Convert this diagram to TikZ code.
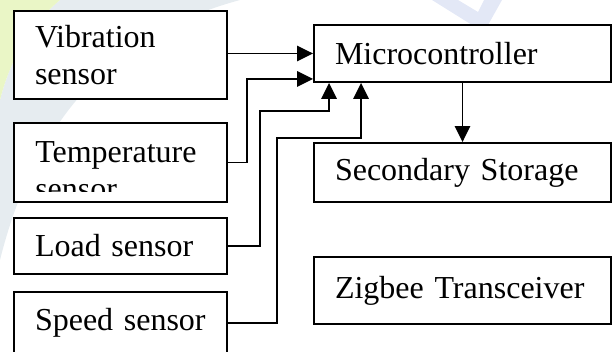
\documentclass[tikz,border=0pt]{standalone}
\usepackage{fontspec}
\setmainfont{Liberation Serif}
\usetikzlibrary{arrows.meta,calc}

\definecolor{wmgreen}{HTML}{EAF6C6}
\definecolor{wmgrey}{HTML}{E6ECF0}
\definecolor{wmblue}{HTML}{E3E8F6}

\begin{document}
\begin{tikzpicture}[x=0.75pt,y=-0.75pt,
  box/.style={draw,line width=1.4pt,fill=white,align=left,inner xsep=15.75pt,inner ysep=0pt,
    font=\fontsize{24}{27.75}\selectfont},
  sensor/.style={box,text width=128.25pt},
  unit/.style={box,text width=191.25pt},
  arr/.style={line width=1.4pt,-{Triangle[length=12pt,width=11.5pt]}}]

\useasboundingbox (0,0) rectangle (613,352);
\clip (0,0) rectangle (613,352);

% faint backdrop
\fill[wmgrey] (60,0) -- (240,0) .. controls (130,30) and (40,100) .. (0,260) -- (0,100)
  .. controls (10,60) and (30,25) .. (60,0) -- cycle;
\fill[wmgreen] (0,0) -- (60,0) .. controls (30,25) and (10,60) .. (0,100) -- cycle;
\fill[wmblue] (432,0) -- (472,25) -- (488,25) -- (502,0) -- (484,0) -- (478,12) -- (458,0) -- cycle;

% sensors
\node[sensor,minimum height=66pt] (vib) at (120.5,55) {Vibration\\sensor};
\node[sensor,minimum height=59.25pt] (temp) at (120.5,162.5) {};
\begin{scope}
  \clip (temp.north west) rectangle ([yshift=8.25pt]temp.south east);
  \node[anchor=north west,inner sep=0pt,align=left,font=\fontsize{24}{27.75}\selectfont]
    (temptext) at (35,141) {Temperature\\sensor};
\end{scope}
\node[sensor,minimum height=42pt] (load) at (120.5,246) {Load sensor};
\node[sensor,minimum height=46.5pt] (speed) at (120.5,323) {Speed sensor};

% right column
\node[unit,minimum height=42.75pt] (mc) at (462.5,53.5) {Microcontroller};
\node[unit,minimum height=44.25pt] (ss) at (462.5,172.5) {Secondary Storage};
\node[unit,minimum height=50.25pt] (zb) at (462.5,290.5) {Zigbee Transceiver};

% wiring
\coordinate (loadbend) at ($(mc.south west)+(16,28)$);
\coordinate (speedbend) at ($(mc.south west)+(48,55)$);

\draw[arr] (vib.east |- mc.west) -- (mc.west);
\draw[arr] (temp.east) -- ++(19,0) |- ([yshift=3pt]mc.south west);
\draw[arr] (load.east) -- ++(32,0) |- (loadbend) -- (loadbend |- mc.south);
\draw[arr] (speed.east) -- ++(49,0) |- (speedbend) -- (speedbend |- mc.south);
\draw[arr] (mc.south) -- (ss.north);
\end{tikzpicture}
\end{document}
